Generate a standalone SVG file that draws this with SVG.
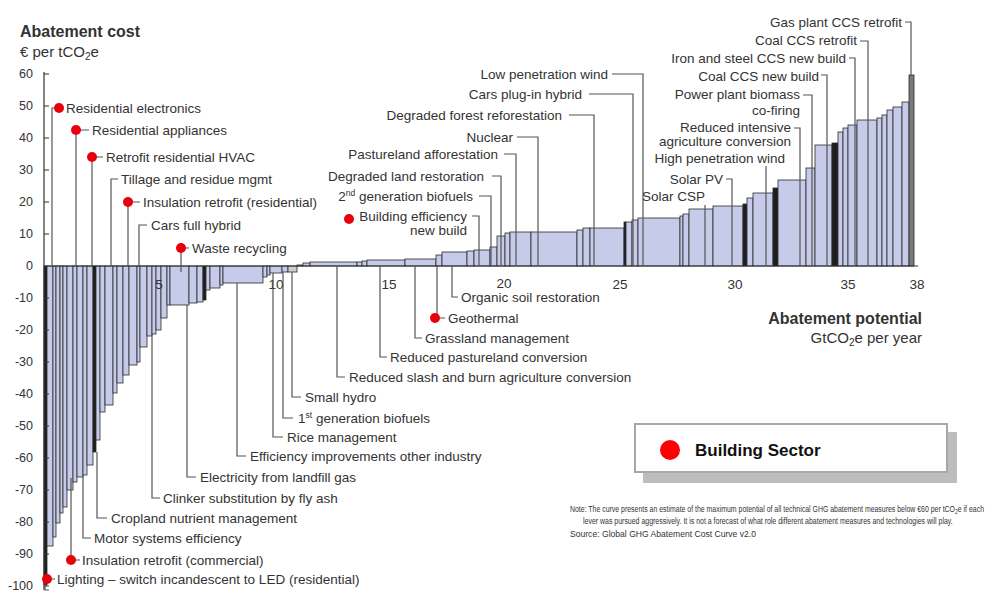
<svg xmlns="http://www.w3.org/2000/svg" width="992" height="594" viewBox="0 0 992 594">
<style>
text{font-family:"Liberation Sans",Arial,sans-serif;fill:#333}
.lb{font-size:13.5px}
.tk{font-size:12.5px}
.ttl{font-size:16px;font-weight:bold}
.sub{font-size:15px}
.note{font-size:9px}
.bars rect{fill:#c6cbe9;stroke:#2a2a2a;stroke-width:0.8}
.bars rect.dk{fill:#1e1e1e}
.bars rect.gy{fill:#cfcfcf}
.bars rect.mg{fill:#7a7a7a}
.ax{stroke:#333;stroke-width:1.2;fill:none}
.ld{stroke:#555;stroke-width:1.2;fill:none}
.dot{fill:#e8000b}
</style>
<rect width="992" height="594" fill="#fff"/>
<g id="bars" class="bars">
<rect x="44" y="266" width="3" height="319" class="dk"/>
<rect x="47" y="266" width="6" height="280"/>
<rect x="53" y="266" width="3" height="271"/>
<rect x="56" y="266" width="4" height="257"/>
<rect x="60" y="266" width="3" height="247"/>
<rect x="63" y="266" width="4" height="241"/>
<rect x="67" y="266" width="6" height="224"/>
<rect x="73" y="266" width="4" height="216"/>
<rect x="77" y="266" width="6" height="211"/>
<rect x="83" y="266" width="4" height="209"/>
<rect x="87" y="266" width="6" height="199"/>
<rect x="93" y="266" width="3" height="186" class="dk"/>
<rect x="96" y="266" width="4" height="174"/>
<rect x="100" y="266" width="5" height="146"/>
<rect x="105" y="266" width="8" height="139"/>
<rect x="113" y="266" width="4" height="127"/>
<rect x="117" y="266" width="6" height="117"/>
<rect x="123" y="266" width="6" height="109"/>
<rect x="129" y="266" width="8" height="99"/>
<rect x="137" y="266" width="3" height="96"/>
<rect x="140" y="266" width="7" height="81"/>
<rect x="147" y="266" width="5" height="70"/>
<rect x="152" y="266" width="4" height="68"/>
<rect x="156" y="266" width="5" height="64"/>
<rect x="161" y="266" width="6" height="52"/>
<rect x="167" y="266" width="3" height="39"/>
<rect x="170" y="266" width="19" height="39"/>
<rect x="189" y="266" width="8" height="37"/>
<rect x="197" y="266" width="6" height="36"/>
<rect x="203" y="266" width="3" height="34" class="dk"/>
<rect x="206" y="266" width="4" height="24"/>
<rect x="210" y="266" width="10" height="22"/>
<rect x="220" y="266" width="3" height="19"/>
<rect x="223" y="266" width="40" height="17"/>
<rect x="263" y="266" width="4" height="11"/>
<rect x="267" y="266" width="3" height="9"/>
<rect x="270" y="266" width="12" height="7"/>
<rect x="282" y="266" width="6" height="6"/>
<rect x="288" y="266" width="9" height="6" class="gy"/>
<rect x="297" y="265" width="6" height="1"/>
<rect x="303" y="263" width="7" height="3"/>
<rect x="310" y="262" width="47" height="4"/>
<rect x="357" y="262" width="5" height="4"/>
<rect x="362" y="261" width="5" height="5"/>
<rect x="367" y="260" width="38" height="6"/>
<rect x="405" y="259" width="31" height="7"/>
<rect x="436" y="255" width="6" height="11"/>
<rect x="442" y="252" width="25" height="14"/>
<rect x="467" y="251" width="7" height="15"/>
<rect x="474" y="250" width="16" height="16"/>
<rect x="490" y="247" width="7" height="19"/>
<rect x="497" y="236" width="8" height="30"/>
<rect x="505" y="233" width="5" height="33"/>
<rect x="510" y="232" width="21" height="34"/>
<rect x="531" y="232" width="46" height="34"/>
<rect x="577" y="230" width="6" height="36"/>
<rect x="583" y="228" width="7" height="38"/>
<rect x="590" y="228" width="34" height="38"/>
<rect x="624" y="222" width="2" height="44" class="dk"/>
<rect x="626" y="222" width="6" height="44"/>
<rect x="632" y="220" width="6" height="46"/>
<rect x="638" y="218" width="42" height="48"/>
<rect x="680" y="216" width="3" height="50"/>
<rect x="683" y="214" width="6" height="52"/>
<rect x="689" y="209" width="24" height="57"/>
<rect x="713" y="206" width="30" height="60"/>
<rect x="743" y="204" width="4" height="62" class="dk"/>
<rect x="747" y="198" width="6" height="68"/>
<rect x="753" y="193" width="20" height="73"/>
<rect x="773" y="188" width="5" height="78" class="dk"/>
<rect x="778" y="180" width="28" height="86"/>
<rect x="806" y="168" width="9" height="98"/>
<rect x="815" y="145" width="17" height="121"/>
<rect x="832" y="143" width="6" height="123" class="dk"/>
<rect x="838" y="132" width="5" height="134"/>
<rect x="843" y="128" width="5" height="138"/>
<rect x="848" y="125" width="9" height="141"/>
<rect x="857" y="120" width="20" height="146"/>
<rect x="877" y="118" width="5" height="148"/>
<rect x="882" y="115" width="5" height="151"/>
<rect x="887" y="110" width="6" height="156"/>
<rect x="893" y="107" width="9" height="159"/>
<rect x="902" y="102" width="7" height="164"/>
<rect x="909" y="75" width="5" height="191" class="mg"/>
</g>
<g id="axes">
<path class="ax" d="M44 72V590M44 266H918"/>
<path class="ax" d="M44 74H49M44 106H49M44 138H49M44 170H49M44 202H49M44 234H49M44 298H49M44 330H49M44 362H49M44 394H49M44 426H49M44 458H49M44 490H49M44 522H49M44 554H49M44 586H49"/>
<g class="tk" text-anchor="end">
<text x="33" y="78">60</text><text x="33" y="110">50</text><text x="33" y="142">40</text><text x="33" y="174">30</text>
<text x="33" y="206">20</text><text x="33" y="238">10</text><text x="33" y="270">0</text><text x="33" y="302">-10</text>
<text x="33" y="334">-20</text><text x="33" y="366">-30</text><text x="33" y="398">-40</text><text x="33" y="430">-50</text>
<text x="33" y="462">-60</text><text x="33" y="494">-70</text><text x="33" y="526">-80</text><text x="33" y="558">-90</text>
<text x="33" y="590">-100</text>
</g>
<g class="lb" text-anchor="middle">
<text x="159" y="289">5</text><text x="276" y="289">10</text><text x="389" y="289">15</text><text x="504" y="288">20</text>
<text x="620" y="289">25</text><text x="735" y="289">30</text><text x="848" y="289">35</text><text x="917" y="289">38</text>
</g>
<text class="ttl" x="20" y="37">Abatement cost</text>
<text class="sub" x="20" y="57">€ per tCO<tspan font-size="10" dy="3">2</tspan><tspan dy="-3">e</tspan></text>
<text class="ttl" x="922" y="324" text-anchor="end">Abatement potential</text>
<text class="sub" x="922" y="343" text-anchor="end">GtCO<tspan font-size="10" dy="3">2</tspan><tspan dy="-3">e per year</tspan></text>
</g>
<g id="connectors">
<path class="ld" d="M52 266V108H59"/>
<path class="ld" d="M76 266V130M80 130H89"/>
<path class="ld" d="M92 266V157M96 157H103"/>
<path class="ld" d="M111 266V179H118"/>
<path class="ld" d="M128 266V202M132 202H140"/>
<path class="ld" d="M139 266V225H147"/>
<path class="ld" d="M181 272V248M185 248H189"/>
<path class="ld" d="M45 579V590H49M49 579H55"/>
<path class="ld" d="M71 478V560M75 560H80"/>
<path class="ld" d="M83 475V538H91"/>
<path class="ld" d="M97 452V518H107"/>
<path class="ld" d="M152 334V498H160"/>
<path class="ld" d="M187 305V477H196"/>
<path class="ld" d="M237 283V456H246"/>
<path class="ld" d="M273 273V437H283"/>
<path class="ld" d="M283 272V418H293"/>
<path class="ld" d="M292 272V397H301"/>
<path class="ld" d="M337 266V377H345"/>
<path class="ld" d="M380 266V357H387"/>
<path class="ld" d="M415 266V338H422"/>
<path class="ld" d="M437 266V318M440 318H445"/>
<path class="ld" d="M452 266V297H458"/>
<path class="ld" d="M472 216H479V266"/>
<path class="ld" d="M479 196H491V266"/>
<path class="ld" d="M492 176H501V266"/>
<path class="ld" d="M504 154H516V266"/>
<path class="ld" d="M517 137H538V266"/>
<path class="ld" d="M569 115H594V266"/>
<path class="ld" d="M589 94H633V266"/>
<path class="ld" d="M612 74H643V266"/>
<path class="ld" d="M705 205V266"/>
<path class="ld" d="M726 179H732V266"/>
<path class="ld" d="M766 166V266"/>
<path class="ld" d="M794 128H800V266"/>
<path class="ld" d="M803 95H812V266"/>
<path class="ld" d="M821 75H827V266"/>
<path class="ld" d="M849 58H855V266"/>
<path class="ld" d="M860 41H868V266"/>
<path class="ld" d="M905 22H911V75"/>
</g>
<g class="lb">
<g id="residential-electronics"><circle class="dot" cx="59" cy="108" r="5"/><text x="66" y="113">Residential electronics</text></g>
<g id="residential-appliances"><circle class="dot" cx="76" cy="130" r="5"/><text x="92" y="135">Residential appliances</text></g>
<g id="retrofit-hvac"><circle class="dot" cx="92" cy="157" r="5"/><text x="106" y="162">Retrofit residential HVAC</text></g>
<g id="tillage"><text x="121" y="184">Tillage and residue mgmt</text></g>
<g id="insulation-residential"><circle class="dot" cx="128" cy="202" r="5"/><text x="143" y="207">Insulation retrofit (residential)</text></g>
<g id="cars-full-hybrid"><text x="151" y="230">Cars full hybrid</text></g>
<g id="waste-recycling"><circle class="dot" cx="181" cy="248" r="5"/><text x="192" y="253">Waste recycling</text></g>
<g id="lighting"><circle class="dot" cx="47" cy="579" r="5"/><text x="57" y="584">Lighting – switch incandescent to LED (residential)</text></g>
<g id="insulation-commercial"><circle class="dot" cx="71" cy="560" r="5"/><text x="82" y="565">Insulation retrofit (commercial)</text></g>
<g id="motor-systems"><text x="94" y="543">Motor systems efficiency</text></g>
<g id="cropland"><text x="111" y="523">Cropland nutrient management</text></g>
<g id="clinker"><text x="163" y="503">Clinker substitution by fly ash</text></g>
<g id="landfill-gas"><text x="200" y="482">Electricity from landfill gas</text></g>
<g id="efficiency-industry"><text x="250" y="461">Efficiency improvements other industry</text></g>
<g id="rice"><text x="287" y="442">Rice management</text></g>
<g id="first-gen-biofuels"><text x="298" y="423">1<tspan font-size="8.5" dy="-5">st</tspan><tspan dy="5"> generation biofuels</tspan></text></g>
<g id="small-hydro"><text x="305" y="402">Small hydro</text></g>
<g id="slash-burn"><text x="349" y="382">Reduced slash and burn agriculture conversion</text></g>
<g id="pastureland-conversion"><text x="390" y="362">Reduced pastureland conversion</text></g>
<g id="grassland"><text x="425" y="343">Grassland management</text></g>
<g id="geothermal"><circle class="dot" cx="435" cy="318" r="5"/><text x="448" y="323">Geothermal</text></g>
<g id="organic-soil"><text x="461" y="302">Organic soil restoration</text></g>
<g id="building-efficiency"><circle class="dot" cx="349" cy="219" r="5"/><text x="467" y="221" text-anchor="end">Building efficiency</text><text x="467" y="235" text-anchor="end">new build</text></g>
<g id="second-gen-biofuels"><text x="473" y="201" text-anchor="end">2<tspan font-size="8.5" dy="-5">nd</tspan><tspan dy="5"> generation biofuels</tspan></text></g>
<g id="degraded-land"><text x="484" y="181" text-anchor="end">Degraded land restoration</text></g>
<g id="pastureland-afforestation"><text x="498" y="159" text-anchor="end">Pastureland afforestation</text></g>
<g id="nuclear"><text x="513" y="142" text-anchor="end">Nuclear</text></g>
<g id="degraded-forest"><text x="562" y="120" text-anchor="end">Degraded forest reforestation</text></g>
<g id="cars-plugin"><text x="582" y="99" text-anchor="end">Cars plug-in hybrid</text></g>
<g id="low-wind"><text x="608" y="79" text-anchor="end">Low penetration wind</text></g>
<g id="solar-csp"><text x="705" y="201" text-anchor="end">Solar CSP</text></g>
<g id="solar-pv"><text x="723" y="184" text-anchor="end">Solar PV</text></g>
<g id="high-wind"><text x="785" y="163" text-anchor="end">High penetration wind</text></g>
<g id="intensive-agri"><text x="791" y="132" text-anchor="end">Reduced intensive</text><text x="791" y="146" text-anchor="end">agriculture conversion</text></g>
<g id="biomass-cofiring"><text x="800" y="99" text-anchor="end">Power plant biomass</text><text x="800" y="115" text-anchor="end">co-firing</text></g>
<g id="coal-ccs-new"><text x="819" y="81" text-anchor="end">Coal CCS new build</text></g>
<g id="iron-steel-ccs"><text x="846" y="63" text-anchor="end">Iron and steel CCS new build</text></g>
<g id="coal-ccs-retrofit"><text x="857" y="45" text-anchor="end">Coal CCS retrofit</text></g>
<g id="gas-ccs-retrofit"><text x="902" y="27" text-anchor="end">Gas plant CCS retrofit</text></g>
</g>
<g id="legend">
<rect x="643" y="432" width="314" height="51" fill="#bdbdbd"/>
<rect x="635" y="424" width="312" height="48" fill="#fff" stroke="#a8a8a8" stroke-width="2"/>
<circle cx="670" cy="450" r="10" fill="#f00"/>
<text x="695" y="456" font-size="17" font-weight="bold" style="fill:#111">Building Sector</text>
</g>
<g id="note" class="note">
<g transform="translate(570 512) scale(0.75 1)"><text x="0" y="0" textLength="552" lengthAdjust="spacingAndGlyphs">Note: The curve presents an estimate of the maximum potential of all technical GHG abatement measures below €60 per tCO<tspan font-size="6.5" dy="2">2</tspan><tspan dy="-2">e if each</tspan></text></g>
<g transform="translate(583 524) scale(0.75 1)"><text x="0" y="0" textLength="493" lengthAdjust="spacingAndGlyphs">lever was pursued aggressively. It is not a forecast of what role different abatement measures and technologies will play.</text></g>
<g transform="translate(570 537) scale(0.75 1)"><text x="0" y="0" textLength="248" lengthAdjust="spacingAndGlyphs">Source: Global GHG Abatement Cost Curve v2.0</text></g>
</g>
</svg>
